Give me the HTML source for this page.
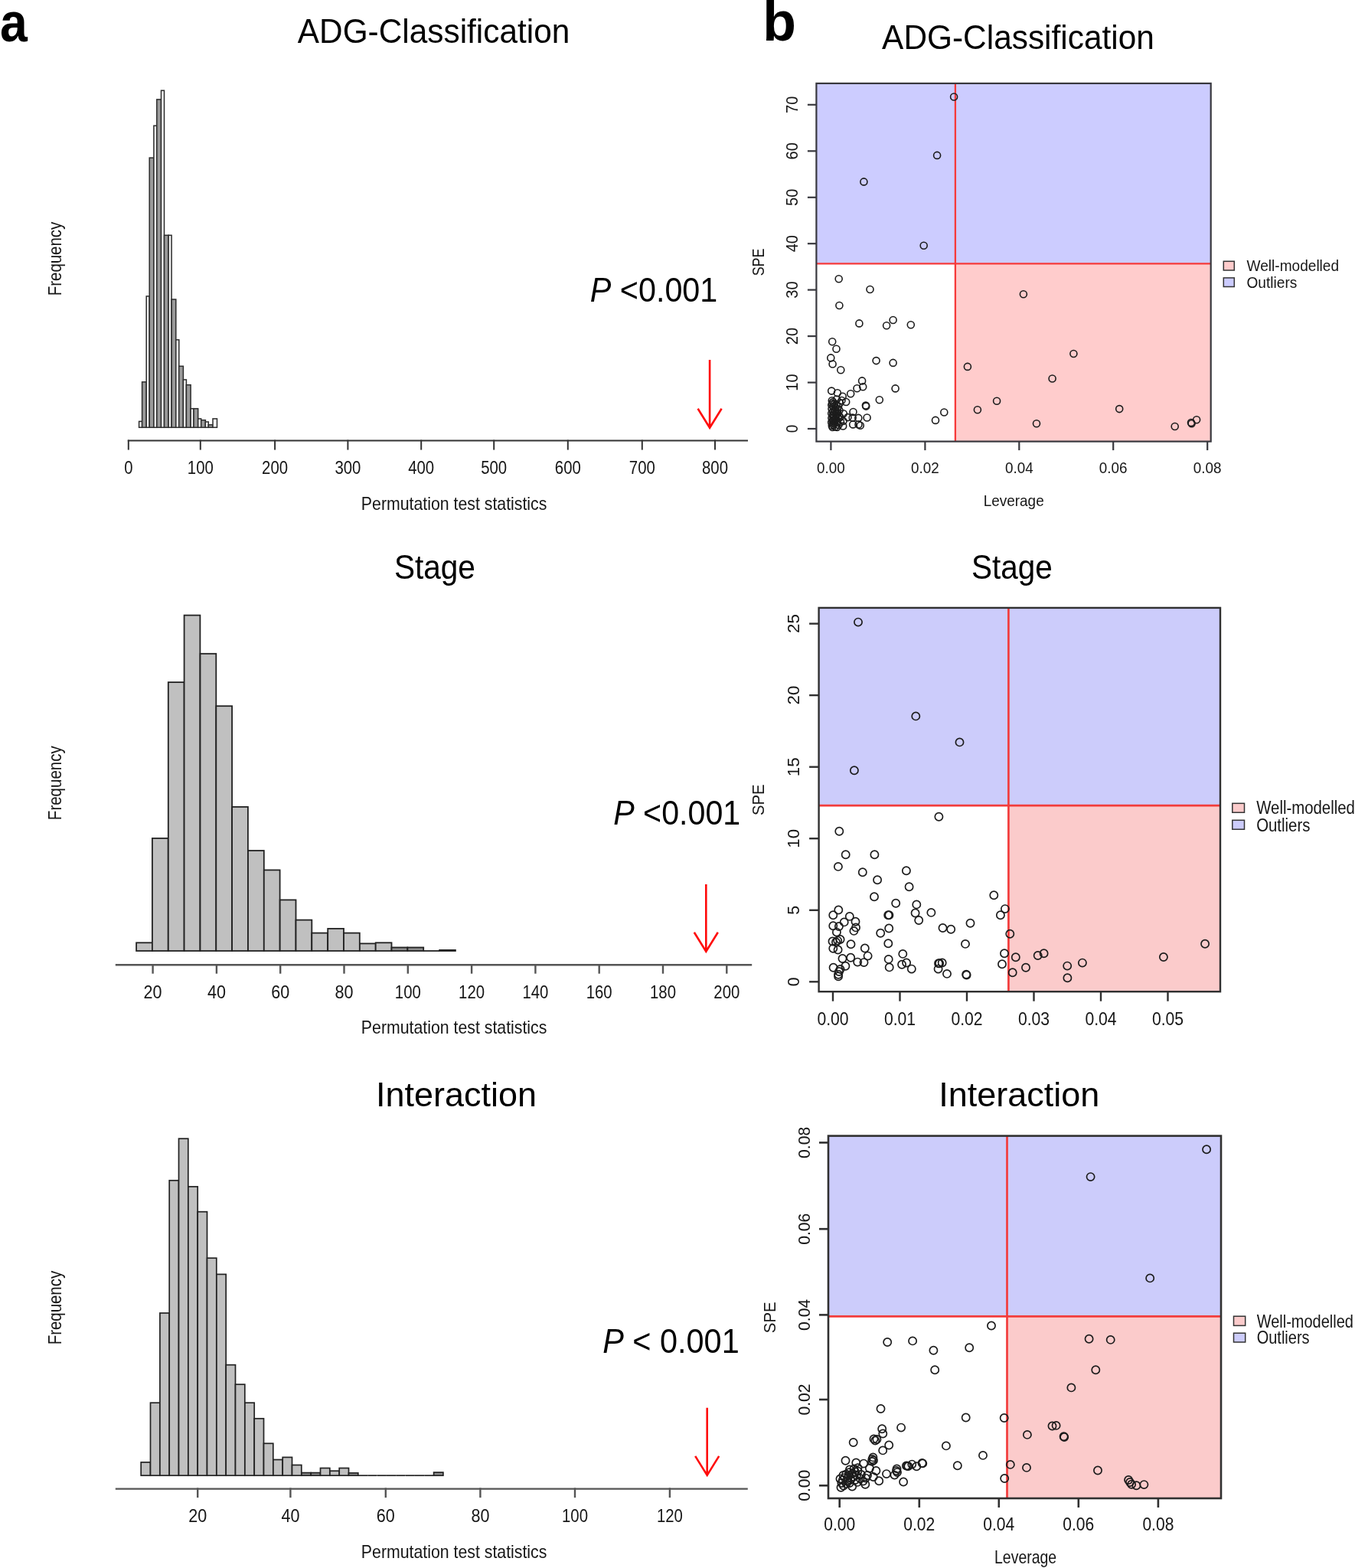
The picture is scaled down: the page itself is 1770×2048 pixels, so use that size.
<!DOCTYPE html>
<html lang="en">
<head>
<meta charset="utf-8">
<title>Permutation test statistics and SPE / Leverage outlier plots</title>
<style>
html, body { margin: 0; padding: 0; background: #ffffff; }
body { width: 1770px; height: 2048px; overflow: hidden; }
svg { display: block; font-family: "Liberation Sans", Arial, Helvetica, sans-serif; }
svg text { font-family: "Liberation Sans", Arial, Helvetica, sans-serif; }
</style>
</head>
<body>
<svg width="1770" height="2048" viewBox="0 0 1770 2048">
<rect x="0" y="0" width="1770" height="2048" fill="#ffffff"/>
<g class="hist">
<rect x="181.6" y="550.4" width="4.0" height="7.9" fill="#f4f4f4" stroke="#2c2c2c" stroke-width="1.5"/>
<rect x="185.6" y="498.9" width="5.7" height="59.4" fill="#9a9a9a" stroke="#2c2c2c" stroke-width="1.5"/>
<rect x="191.2" y="386.9" width="4.0" height="171.4" fill="#f4f4f4" stroke="#2c2c2c" stroke-width="1.5"/>
<rect x="195.2" y="206.1" width="5.7" height="352.2" fill="#9a9a9a" stroke="#2c2c2c" stroke-width="1.5"/>
<rect x="200.9" y="164.2" width="4.0" height="394.1" fill="#f4f4f4" stroke="#2c2c2c" stroke-width="1.5"/>
<rect x="204.8" y="129.9" width="5.7" height="428.4" fill="#9a9a9a" stroke="#2c2c2c" stroke-width="1.5"/>
<rect x="210.5" y="118.2" width="4.0" height="440.1" fill="#f4f4f4" stroke="#2c2c2c" stroke-width="1.5"/>
<rect x="214.5" y="307.3" width="5.7" height="251.0" fill="#9a9a9a" stroke="#2c2c2c" stroke-width="1.5"/>
<rect x="220.1" y="307.3" width="4.0" height="251.0" fill="#f4f4f4" stroke="#2c2c2c" stroke-width="1.5"/>
<rect x="224.1" y="391.0" width="5.7" height="167.3" fill="#9a9a9a" stroke="#2c2c2c" stroke-width="1.5"/>
<rect x="229.8" y="443.8" width="4.0" height="114.5" fill="#f4f4f4" stroke="#2c2c2c" stroke-width="1.5"/>
<rect x="233.7" y="478.3" width="5.7" height="80.0" fill="#9a9a9a" stroke="#2c2c2c" stroke-width="1.5"/>
<rect x="239.4" y="495.9" width="4.0" height="62.4" fill="#f4f4f4" stroke="#2c2c2c" stroke-width="1.5"/>
<rect x="243.4" y="502.7" width="5.7" height="55.6" fill="#9a9a9a" stroke="#2c2c2c" stroke-width="1.5"/>
<rect x="249.1" y="533.7" width="4.0" height="24.6" fill="#f4f4f4" stroke="#2c2c2c" stroke-width="1.5"/>
<rect x="253.0" y="533.7" width="5.7" height="24.6" fill="#9a9a9a" stroke="#2c2c2c" stroke-width="1.5"/>
<rect x="258.7" y="546.9" width="4.0" height="11.4" fill="#f4f4f4" stroke="#2c2c2c" stroke-width="1.5"/>
<rect x="262.7" y="548.7" width="5.7" height="9.6" fill="#9a9a9a" stroke="#2c2c2c" stroke-width="1.5"/>
<rect x="268.3" y="551.0" width="4.0" height="7.3" fill="#f4f4f4" stroke="#2c2c2c" stroke-width="1.5"/>
<rect x="272.3" y="554.8" width="5.7" height="3.5" fill="#9a9a9a" stroke="#2c2c2c" stroke-width="1.5"/>
<rect x="278.0" y="546.9" width="5.5" height="11.4" fill="#f4f4f4" stroke="#2c2c2c" stroke-width="1.5"/>
<line x1="166.8" y1="575.6" x2="977.0" y2="575.6" stroke="#333" stroke-width="2" stroke-linecap="butt"/>
<line x1="167.8" y1="574.6" x2="167.8" y2="587.6" stroke="#333" stroke-width="2" stroke-linecap="butt"/>
<text x="167.8" y="619.2" font-size="23.4" text-anchor="middle" fill="#161616" textLength="11.3" lengthAdjust="spacingAndGlyphs">0</text>
<line x1="261.8" y1="574.6" x2="261.8" y2="587.6" stroke="#333" stroke-width="2" stroke-linecap="butt"/>
<text x="261.8" y="619.2" font-size="23.4" text-anchor="middle" fill="#161616" textLength="34.0" lengthAdjust="spacingAndGlyphs">100</text>
<line x1="359.1" y1="574.6" x2="359.1" y2="587.6" stroke="#333" stroke-width="2" stroke-linecap="butt"/>
<text x="359.1" y="619.2" font-size="23.4" text-anchor="middle" fill="#161616" textLength="34.0" lengthAdjust="spacingAndGlyphs">200</text>
<line x1="454.4" y1="574.6" x2="454.4" y2="587.6" stroke="#333" stroke-width="2" stroke-linecap="butt"/>
<text x="454.4" y="619.2" font-size="23.4" text-anchor="middle" fill="#161616" textLength="34.0" lengthAdjust="spacingAndGlyphs">300</text>
<line x1="550.2" y1="574.6" x2="550.2" y2="587.6" stroke="#333" stroke-width="2" stroke-linecap="butt"/>
<text x="550.2" y="619.2" font-size="23.4" text-anchor="middle" fill="#161616" textLength="34.0" lengthAdjust="spacingAndGlyphs">400</text>
<line x1="645.2" y1="574.6" x2="645.2" y2="587.6" stroke="#333" stroke-width="2" stroke-linecap="butt"/>
<text x="645.2" y="619.2" font-size="23.4" text-anchor="middle" fill="#161616" textLength="34.0" lengthAdjust="spacingAndGlyphs">500</text>
<line x1="741.8" y1="574.6" x2="741.8" y2="587.6" stroke="#333" stroke-width="2" stroke-linecap="butt"/>
<text x="741.8" y="619.2" font-size="23.4" text-anchor="middle" fill="#161616" textLength="34.0" lengthAdjust="spacingAndGlyphs">600</text>
<line x1="838.8" y1="574.6" x2="838.8" y2="587.6" stroke="#333" stroke-width="2" stroke-linecap="butt"/>
<text x="838.8" y="619.2" font-size="23.4" text-anchor="middle" fill="#161616" textLength="34.0" lengthAdjust="spacingAndGlyphs">700</text>
<line x1="934.0" y1="574.6" x2="934.0" y2="587.6" stroke="#333" stroke-width="2" stroke-linecap="butt"/>
<text x="934.0" y="619.2" font-size="23.4" text-anchor="middle" fill="#161616" textLength="34.0" lengthAdjust="spacingAndGlyphs">800</text>
<text x="593.1" y="665.5" font-size="23.4" text-anchor="middle" fill="#161616" textLength="242.5" lengthAdjust="spacingAndGlyphs">Permutation test statistics</text>
<text x="80.2" y="338.0" font-size="23.4" text-anchor="middle" fill="#161616" textLength="96.4" lengthAdjust="spacingAndGlyphs" transform="rotate(-90 80.2 338.0)">Frequency</text>
<path d="M927.1 470.0 L927.1 558.2 M911.6 533.7 L927.1 558.7 L942.6 533.7" fill="none" stroke="#ff0a0a" stroke-width="2.6" stroke-linejoin="miter" stroke-linecap="butt"/>
<text x="770.8" y="393.5" font-size="43.5" fill="#000" textLength="166.5" lengthAdjust="spacingAndGlyphs" style="white-space:pre"><tspan font-style="italic">P</tspan> &lt;0.001</text>
<text x="388.8" y="56.3" font-size="43.5" text-anchor="start" fill="#000" textLength="355.5" lengthAdjust="spacingAndGlyphs">ADG-Classification</text>
</g>
<g class="hist">
<rect x="178.1" y="1231.3" width="20.8" height="10.7" fill="#c0c0c0" stroke="#222" stroke-width="1.8"/>
<rect x="198.9" y="1094.9" width="20.8" height="147.1" fill="#c0c0c0" stroke="#222" stroke-width="1.8"/>
<rect x="219.8" y="891.1" width="20.8" height="350.9" fill="#c0c0c0" stroke="#222" stroke-width="1.8"/>
<rect x="240.6" y="803.6" width="20.8" height="438.4" fill="#c0c0c0" stroke="#222" stroke-width="1.8"/>
<rect x="261.5" y="853.8" width="20.8" height="388.2" fill="#c0c0c0" stroke="#222" stroke-width="1.8"/>
<rect x="282.3" y="922.2" width="20.8" height="319.8" fill="#c0c0c0" stroke="#222" stroke-width="1.8"/>
<rect x="303.1" y="1053.9" width="20.8" height="188.1" fill="#c0c0c0" stroke="#222" stroke-width="1.8"/>
<rect x="324.0" y="1111.0" width="20.8" height="131.0" fill="#c0c0c0" stroke="#222" stroke-width="1.8"/>
<rect x="344.8" y="1136.4" width="20.8" height="105.6" fill="#c0c0c0" stroke="#222" stroke-width="1.8"/>
<rect x="365.7" y="1175.4" width="20.8" height="66.6" fill="#c0c0c0" stroke="#222" stroke-width="1.8"/>
<rect x="386.5" y="1201.6" width="20.8" height="40.4" fill="#c0c0c0" stroke="#222" stroke-width="1.8"/>
<rect x="407.3" y="1218.6" width="20.8" height="23.4" fill="#c0c0c0" stroke="#222" stroke-width="1.8"/>
<rect x="428.2" y="1212.9" width="20.8" height="29.1" fill="#c0c0c0" stroke="#222" stroke-width="1.8"/>
<rect x="449.0" y="1218.6" width="20.8" height="23.4" fill="#c0c0c0" stroke="#222" stroke-width="1.8"/>
<rect x="469.9" y="1232.4" width="20.8" height="9.6" fill="#c0c0c0" stroke="#222" stroke-width="1.8"/>
<rect x="490.7" y="1231.3" width="20.8" height="10.7" fill="#c0c0c0" stroke="#222" stroke-width="1.8"/>
<rect x="511.5" y="1237.5" width="20.8" height="4.5" fill="#8c8c8c" stroke="#222" stroke-width="1.8"/>
<rect x="532.4" y="1237.5" width="20.8" height="4.5" fill="#8c8c8c" stroke="#222" stroke-width="1.8"/>
<line x1="553.2" y1="1242.0" x2="574.1" y2="1242.0" stroke="#222" stroke-width="1.8" stroke-linecap="butt"/>
<rect x="574.1" y="1240.9" width="20.8" height="1.1" fill="#8c8c8c" stroke="#222" stroke-width="1.8"/>
<line x1="150.8" y1="1260.2" x2="982.2" y2="1260.2" stroke="#555" stroke-width="2.4" stroke-linecap="butt"/>
<line x1="199.6" y1="1259.0" x2="199.6" y2="1271.7" stroke="#555" stroke-width="2.4" stroke-linecap="butt"/>
<text x="199.6" y="1304.0" font-size="23.4" text-anchor="middle" fill="#161616" textLength="24.0" lengthAdjust="spacingAndGlyphs">20</text>
<line x1="282.9" y1="1259.0" x2="282.9" y2="1271.7" stroke="#555" stroke-width="2.4" stroke-linecap="butt"/>
<text x="282.9" y="1304.0" font-size="23.4" text-anchor="middle" fill="#161616" textLength="24.0" lengthAdjust="spacingAndGlyphs">40</text>
<line x1="366.2" y1="1259.0" x2="366.2" y2="1271.7" stroke="#555" stroke-width="2.4" stroke-linecap="butt"/>
<text x="366.2" y="1304.0" font-size="23.4" text-anchor="middle" fill="#161616" textLength="24.0" lengthAdjust="spacingAndGlyphs">60</text>
<line x1="449.5" y1="1259.0" x2="449.5" y2="1271.7" stroke="#555" stroke-width="2.4" stroke-linecap="butt"/>
<text x="449.5" y="1304.0" font-size="23.4" text-anchor="middle" fill="#161616" textLength="24.0" lengthAdjust="spacingAndGlyphs">80</text>
<line x1="532.8" y1="1259.0" x2="532.8" y2="1271.7" stroke="#555" stroke-width="2.4" stroke-linecap="butt"/>
<text x="532.8" y="1304.0" font-size="23.4" text-anchor="middle" fill="#161616" textLength="34.0" lengthAdjust="spacingAndGlyphs">100</text>
<line x1="616.1" y1="1259.0" x2="616.1" y2="1271.7" stroke="#555" stroke-width="2.4" stroke-linecap="butt"/>
<text x="616.1" y="1304.0" font-size="23.4" text-anchor="middle" fill="#161616" textLength="34.0" lengthAdjust="spacingAndGlyphs">120</text>
<line x1="699.4" y1="1259.0" x2="699.4" y2="1271.7" stroke="#555" stroke-width="2.4" stroke-linecap="butt"/>
<text x="699.4" y="1304.0" font-size="23.4" text-anchor="middle" fill="#161616" textLength="34.0" lengthAdjust="spacingAndGlyphs">140</text>
<line x1="782.7" y1="1259.0" x2="782.7" y2="1271.7" stroke="#555" stroke-width="2.4" stroke-linecap="butt"/>
<text x="782.7" y="1304.0" font-size="23.4" text-anchor="middle" fill="#161616" textLength="34.0" lengthAdjust="spacingAndGlyphs">160</text>
<line x1="866.0" y1="1259.0" x2="866.0" y2="1271.7" stroke="#555" stroke-width="2.4" stroke-linecap="butt"/>
<text x="866.0" y="1304.0" font-size="23.4" text-anchor="middle" fill="#161616" textLength="34.0" lengthAdjust="spacingAndGlyphs">180</text>
<line x1="949.3" y1="1259.0" x2="949.3" y2="1271.7" stroke="#555" stroke-width="2.4" stroke-linecap="butt"/>
<text x="949.3" y="1304.0" font-size="23.4" text-anchor="middle" fill="#161616" textLength="34.0" lengthAdjust="spacingAndGlyphs">200</text>
<text x="593.1" y="1350.2" font-size="23.4" text-anchor="middle" fill="#161616" textLength="242.5" lengthAdjust="spacingAndGlyphs">Permutation test statistics</text>
<text x="80.2" y="1022.7" font-size="23.4" text-anchor="middle" fill="#161616" textLength="96.9" lengthAdjust="spacingAndGlyphs" transform="rotate(-90 80.2 1022.7)">Frequency</text>
<path d="M922.3 1155.0 L922.3 1242.2 M906.8 1217.7 L922.3 1242.7 L937.8 1217.7" fill="none" stroke="#ff0a0a" stroke-width="2.6" stroke-linejoin="miter" stroke-linecap="butt"/>
<text x="801.2" y="1077.0" font-size="43.5" fill="#000" textLength="166.0" lengthAdjust="spacingAndGlyphs" style="white-space:pre"><tspan font-style="italic">P</tspan> &lt;0.001</text>
<text x="515.0" y="756.0" font-size="43.5" text-anchor="start" fill="#000" textLength="105.9" lengthAdjust="spacingAndGlyphs">Stage</text>
</g>
<g class="hist">
<rect x="184.2" y="1909.9" width="12.3" height="17.3" fill="#c0c0c0" stroke="#222" stroke-width="1.7"/>
<rect x="196.5" y="1832.2" width="12.3" height="95.0" fill="#c0c0c0" stroke="#222" stroke-width="1.7"/>
<rect x="208.9" y="1715.0" width="12.3" height="212.2" fill="#c0c0c0" stroke="#222" stroke-width="1.7"/>
<rect x="221.2" y="1541.8" width="12.3" height="385.4" fill="#c0c0c0" stroke="#222" stroke-width="1.7"/>
<rect x="233.5" y="1487.2" width="12.3" height="440.0" fill="#c0c0c0" stroke="#222" stroke-width="1.7"/>
<rect x="245.9" y="1549.9" width="12.3" height="377.3" fill="#c0c0c0" stroke="#222" stroke-width="1.7"/>
<rect x="258.2" y="1582.7" width="12.3" height="344.5" fill="#c0c0c0" stroke="#222" stroke-width="1.7"/>
<rect x="270.5" y="1643.2" width="12.3" height="284.0" fill="#c0c0c0" stroke="#222" stroke-width="1.7"/>
<rect x="282.9" y="1664.4" width="12.3" height="262.8" fill="#c0c0c0" stroke="#222" stroke-width="1.7"/>
<rect x="295.2" y="1782.7" width="12.3" height="144.5" fill="#c0c0c0" stroke="#222" stroke-width="1.7"/>
<rect x="307.5" y="1808.2" width="12.3" height="119.0" fill="#c0c0c0" stroke="#222" stroke-width="1.7"/>
<rect x="319.9" y="1832.2" width="12.3" height="95.0" fill="#c0c0c0" stroke="#222" stroke-width="1.7"/>
<rect x="332.2" y="1852.8" width="12.3" height="74.4" fill="#c0c0c0" stroke="#222" stroke-width="1.7"/>
<rect x="344.5" y="1885.3" width="12.3" height="41.9" fill="#c0c0c0" stroke="#222" stroke-width="1.7"/>
<rect x="356.9" y="1906.5" width="12.3" height="20.7" fill="#c0c0c0" stroke="#222" stroke-width="1.7"/>
<rect x="369.2" y="1903.4" width="12.3" height="23.8" fill="#c0c0c0" stroke="#222" stroke-width="1.7"/>
<rect x="381.5" y="1913.5" width="12.3" height="13.7" fill="#c0c0c0" stroke="#222" stroke-width="1.7"/>
<rect x="393.9" y="1923.6" width="12.3" height="3.6" fill="#8c8c8c" stroke="#222" stroke-width="1.7"/>
<rect x="406.2" y="1923.6" width="12.3" height="3.6" fill="#8c8c8c" stroke="#222" stroke-width="1.7"/>
<rect x="418.5" y="1917.5" width="12.3" height="9.7" fill="#c0c0c0" stroke="#222" stroke-width="1.7"/>
<rect x="430.9" y="1921.2" width="12.3" height="6.0" fill="#c0c0c0" stroke="#222" stroke-width="1.7"/>
<rect x="443.2" y="1917.5" width="12.3" height="9.7" fill="#c0c0c0" stroke="#222" stroke-width="1.7"/>
<rect x="455.5" y="1923.9" width="12.3" height="3.3" fill="#8c8c8c" stroke="#222" stroke-width="1.7"/>
<line x1="467.9" y1="1927.2" x2="480.2" y2="1927.2" stroke="#222" stroke-width="1.7" stroke-linecap="butt"/>
<line x1="480.2" y1="1927.2" x2="492.5" y2="1927.2" stroke="#222" stroke-width="1.7" stroke-linecap="butt"/>
<line x1="492.5" y1="1927.2" x2="504.9" y2="1927.2" stroke="#222" stroke-width="1.7" stroke-linecap="butt"/>
<line x1="504.9" y1="1927.2" x2="517.2" y2="1927.2" stroke="#222" stroke-width="1.7" stroke-linecap="butt"/>
<line x1="517.2" y1="1927.2" x2="529.6" y2="1927.2" stroke="#222" stroke-width="1.7" stroke-linecap="butt"/>
<line x1="529.6" y1="1927.2" x2="541.9" y2="1927.2" stroke="#222" stroke-width="1.7" stroke-linecap="butt"/>
<line x1="541.9" y1="1927.2" x2="554.2" y2="1927.2" stroke="#222" stroke-width="1.7" stroke-linecap="butt"/>
<line x1="554.2" y1="1927.2" x2="566.6" y2="1927.2" stroke="#222" stroke-width="1.7" stroke-linecap="butt"/>
<rect x="566.6" y="1923.1" width="12.3" height="4.1" fill="#8c8c8c" stroke="#222" stroke-width="1.7"/>
<line x1="150.8" y1="1944.6" x2="976.8" y2="1944.6" stroke="#555" stroke-width="2.4" stroke-linecap="butt"/>
<line x1="258.2" y1="1943.4" x2="258.2" y2="1956.1" stroke="#555" stroke-width="2.4" stroke-linecap="butt"/>
<text x="258.2" y="1988.4" font-size="23.4" text-anchor="middle" fill="#161616" textLength="24.0" lengthAdjust="spacingAndGlyphs">20</text>
<line x1="379.4" y1="1943.4" x2="379.4" y2="1956.1" stroke="#555" stroke-width="2.4" stroke-linecap="butt"/>
<text x="379.4" y="1988.4" font-size="23.4" text-anchor="middle" fill="#161616" textLength="24.0" lengthAdjust="spacingAndGlyphs">40</text>
<line x1="503.8" y1="1943.4" x2="503.8" y2="1956.1" stroke="#555" stroke-width="2.4" stroke-linecap="butt"/>
<text x="503.8" y="1988.4" font-size="23.4" text-anchor="middle" fill="#161616" textLength="24.0" lengthAdjust="spacingAndGlyphs">60</text>
<line x1="627.4" y1="1943.4" x2="627.4" y2="1956.1" stroke="#555" stroke-width="2.4" stroke-linecap="butt"/>
<text x="627.4" y="1988.4" font-size="23.4" text-anchor="middle" fill="#161616" textLength="24.0" lengthAdjust="spacingAndGlyphs">80</text>
<line x1="751.0" y1="1943.4" x2="751.0" y2="1956.1" stroke="#555" stroke-width="2.4" stroke-linecap="butt"/>
<text x="751.0" y="1988.4" font-size="23.4" text-anchor="middle" fill="#161616" textLength="34.0" lengthAdjust="spacingAndGlyphs">100</text>
<line x1="874.9" y1="1943.4" x2="874.9" y2="1956.1" stroke="#555" stroke-width="2.4" stroke-linecap="butt"/>
<text x="874.9" y="1988.4" font-size="23.4" text-anchor="middle" fill="#161616" textLength="34.0" lengthAdjust="spacingAndGlyphs">120</text>
<text x="593.1" y="2034.6" font-size="23.4" text-anchor="middle" fill="#161616" textLength="242.5" lengthAdjust="spacingAndGlyphs">Permutation test statistics</text>
<text x="80.2" y="1708.1" font-size="23.4" text-anchor="middle" fill="#161616" textLength="96.4" lengthAdjust="spacingAndGlyphs" transform="rotate(-90 80.2 1708.1)">Frequency</text>
<path d="M923.7 1838.7 L923.7 1926.4 M908.2 1901.9 L923.7 1926.9 L939.2 1901.9" fill="none" stroke="#ff0a0a" stroke-width="2.6" stroke-linejoin="miter" stroke-linecap="butt"/>
<text x="787.2" y="1767.4" font-size="43.5" fill="#000" textLength="178.5" lengthAdjust="spacingAndGlyphs" style="white-space:pre"><tspan font-style="italic">P</tspan> &lt; 0.001</text>
<text x="491.0" y="1444.5" font-size="43.5" text-anchor="start" fill="#000" textLength="209.9" lengthAdjust="spacingAndGlyphs">Interaction</text>
</g>
<g class="scatter">
<rect x="1066.4" y="108.9" width="515.3" height="235.5" fill="#ccccff" stroke="none" stroke-width="1"/>
<rect x="1247.9" y="344.4" width="333.8" height="232.2" fill="#ffcccc" stroke="none" stroke-width="1"/>
<line x1="1066.4" y1="344.4" x2="1581.7" y2="344.4" stroke="#f63a3a" stroke-width="2.3" stroke-linecap="butt"/>
<line x1="1247.9" y1="108.9" x2="1247.9" y2="576.6" stroke="#f63a3a" stroke-width="2.3" stroke-linecap="butt"/>
<g fill="none" stroke="#1c1c1c" stroke-width="1.6"><circle cx="1246.1" cy="126.5" r="4.5"/><circle cx="1224.1" cy="202.9" r="4.5"/><circle cx="1128.4" cy="237.4" r="4.5"/><circle cx="1206.7" cy="320.8" r="4.5"/><circle cx="1095.7" cy="364.3" r="4.5"/><circle cx="1136.5" cy="378.0" r="4.5"/><circle cx="1096.4" cy="399.0" r="4.5"/><circle cx="1122.4" cy="422.4" r="4.5"/><circle cx="1158.1" cy="425.2" r="4.5"/><circle cx="1166.6" cy="418.0" r="4.5"/><circle cx="1189.8" cy="424.3" r="4.5"/><circle cx="1087.2" cy="446.3" r="4.5"/><circle cx="1092.5" cy="455.8" r="4.5"/><circle cx="1085.3" cy="467.4" r="4.5"/><circle cx="1087.6" cy="475.5" r="4.5"/><circle cx="1098.3" cy="483.3" r="4.5"/><circle cx="1144.6" cy="471.1" r="4.5"/><circle cx="1166.6" cy="473.9" r="4.5"/><circle cx="1126.1" cy="497.4" r="4.5"/><circle cx="1127.2" cy="505.3" r="4.5"/><circle cx="1119.5" cy="507.2" r="4.5"/><circle cx="1111.2" cy="514.3" r="4.5"/><circle cx="1169.6" cy="507.4" r="4.5"/><circle cx="1148.8" cy="522.2" r="4.5"/><circle cx="1130.9" cy="529.6" r="4.5"/><circle cx="1131.3" cy="530.6" r="4.5"/><circle cx="1132.6" cy="545.5" r="4.5"/><circle cx="1222.0" cy="548.9" r="4.5"/><circle cx="1233.3" cy="538.5" r="4.5"/><circle cx="1336.9" cy="384.2" r="4.5"/><circle cx="1263.9" cy="478.9" r="4.5"/><circle cx="1276.9" cy="535.2" r="4.5"/><circle cx="1302.1" cy="523.7" r="4.5"/><circle cx="1354.0" cy="553.3" r="4.5"/><circle cx="1402.4" cy="462.0" r="4.5"/><circle cx="1374.6" cy="494.5" r="4.5"/><circle cx="1462.2" cy="534.1" r="4.5"/><circle cx="1534.7" cy="557.0" r="4.5"/><circle cx="1556.0" cy="552.0" r="4.5"/><circle cx="1556.6" cy="553.2" r="4.5"/><circle cx="1563.1" cy="548.2" r="4.5"/><circle cx="1086.2" cy="510.6" r="4.5"/><circle cx="1093.9" cy="513.2" r="4.5"/><circle cx="1100.7" cy="517.7" r="4.5"/><circle cx="1086.8" cy="523.3" r="4.5"/><circle cx="1093.0" cy="521.5" r="4.5"/><circle cx="1099.5" cy="523.0" r="4.5"/><circle cx="1105.2" cy="525.0" r="4.5"/><circle cx="1086.3" cy="529.0" r="4.5"/><circle cx="1090.0" cy="527.5" r="4.5"/><circle cx="1095.0" cy="531.0" r="4.5"/><circle cx="1086.5" cy="534.0" r="4.5"/><circle cx="1091.0" cy="536.0" r="4.5"/><circle cx="1086.2" cy="540.0" r="4.5"/><circle cx="1089.5" cy="542.0" r="4.5"/><circle cx="1094.5" cy="540.0" r="4.5"/><circle cx="1086.4" cy="546.0" r="4.5"/><circle cx="1090.5" cy="548.0" r="4.5"/><circle cx="1095.0" cy="546.5" r="4.5"/><circle cx="1086.2" cy="551.5" r="4.5"/><circle cx="1089.0" cy="553.0" r="4.5"/><circle cx="1093.5" cy="552.0" r="4.5"/><circle cx="1086.8" cy="556.0" r="4.5"/><circle cx="1091.0" cy="557.5" r="4.5"/><circle cx="1093.3" cy="558.0" r="4.5"/><circle cx="1087.5" cy="558.0" r="4.5"/><circle cx="1088.0" cy="537.5" r="4.5"/><circle cx="1092.0" cy="544.5" r="4.5"/><circle cx="1087.5" cy="549.5" r="4.5"/><circle cx="1088.5" cy="555.0" r="4.5"/><circle cx="1091.5" cy="532.5" r="4.5"/><circle cx="1087.2" cy="527.0" r="4.5"/><circle cx="1096.5" cy="536.0" r="4.5"/><circle cx="1097.0" cy="526.5" r="4.5"/><circle cx="1088.8" cy="531.0" r="4.5"/><circle cx="1092.8" cy="538.5" r="4.5"/><circle cx="1089.2" cy="545.0" r="4.5"/><circle cx="1093.2" cy="549.5" r="4.5"/><circle cx="1090.2" cy="551.5" r="4.5"/><circle cx="1087.8" cy="543.0" r="4.5"/><circle cx="1094.0" cy="534.5" r="4.5"/><circle cx="1091.8" cy="541.0" r="4.5"/><circle cx="1088.2" cy="525.0" r="4.5"/><circle cx="1092.5" cy="528.5" r="4.5"/><circle cx="1096.0" cy="543.0" r="4.5"/><circle cx="1095.5" cy="555.0" r="4.5"/><circle cx="1090.0" cy="539.0" r="4.5"/><circle cx="1089.0" cy="548.5" r="4.5"/><circle cx="1101.8" cy="540.3" r="4.5"/><circle cx="1101.5" cy="549.9" r="4.5"/><circle cx="1101.2" cy="556.5" r="4.5"/><circle cx="1107.5" cy="545.1" r="4.5"/><circle cx="1113.7" cy="545.6" r="4.5"/><circle cx="1121.3" cy="545.9" r="4.5"/><circle cx="1114.5" cy="538.0" r="4.5"/><circle cx="1114.2" cy="554.4" r="4.5"/><circle cx="1123.8" cy="555.8" r="4.5"/><circle cx="1121.5" cy="554.5" r="4.5"/><circle cx="1098.0" cy="551.0" r="4.5"/><circle cx="1097.5" cy="545.0" r="4.5"/></g>
<rect x="1066.4" y="108.9" width="515.3" height="467.7" fill="none" stroke="#38383e" stroke-width="2.2"/>
<line x1="1085.4" y1="576.6" x2="1085.4" y2="588.1" stroke="#38383e" stroke-width="2.2" stroke-linecap="butt"/>
<text x="1085.4" y="617.5" font-size="20.3" text-anchor="middle" fill="#161616" textLength="36.7" lengthAdjust="spacingAndGlyphs">0.00</text>
<line x1="1208.4" y1="576.6" x2="1208.4" y2="588.1" stroke="#38383e" stroke-width="2.2" stroke-linecap="butt"/>
<text x="1208.4" y="617.5" font-size="20.3" text-anchor="middle" fill="#161616" textLength="36.7" lengthAdjust="spacingAndGlyphs">0.02</text>
<line x1="1331.3" y1="576.6" x2="1331.3" y2="588.1" stroke="#38383e" stroke-width="2.2" stroke-linecap="butt"/>
<text x="1331.3" y="617.5" font-size="20.3" text-anchor="middle" fill="#161616" textLength="36.7" lengthAdjust="spacingAndGlyphs">0.04</text>
<line x1="1454.2" y1="576.6" x2="1454.2" y2="588.1" stroke="#38383e" stroke-width="2.2" stroke-linecap="butt"/>
<text x="1454.2" y="617.5" font-size="20.3" text-anchor="middle" fill="#161616" textLength="36.7" lengthAdjust="spacingAndGlyphs">0.06</text>
<line x1="1577.2" y1="576.6" x2="1577.2" y2="588.1" stroke="#38383e" stroke-width="2.2" stroke-linecap="butt"/>
<text x="1577.2" y="617.5" font-size="20.3" text-anchor="middle" fill="#161616" textLength="36.7" lengthAdjust="spacingAndGlyphs">0.08</text>
<line x1="1054.9" y1="560.0" x2="1066.4" y2="560.0" stroke="#38383e" stroke-width="2.2" stroke-linecap="butt"/>
<text x="1042.4" y="560.0" font-size="21.4" text-anchor="middle" fill="#161616" textLength="10.5" lengthAdjust="spacingAndGlyphs" transform="rotate(-90 1042.4 560.0)">0</text>
<line x1="1054.9" y1="499.6" x2="1066.4" y2="499.6" stroke="#38383e" stroke-width="2.2" stroke-linecap="butt"/>
<text x="1042.4" y="499.6" font-size="21.4" text-anchor="middle" fill="#161616" textLength="22.3" lengthAdjust="spacingAndGlyphs" transform="rotate(-90 1042.4 499.6)">10</text>
<line x1="1054.9" y1="439.1" x2="1066.4" y2="439.1" stroke="#38383e" stroke-width="2.2" stroke-linecap="butt"/>
<text x="1042.4" y="439.1" font-size="21.4" text-anchor="middle" fill="#161616" textLength="22.3" lengthAdjust="spacingAndGlyphs" transform="rotate(-90 1042.4 439.1)">20</text>
<line x1="1054.9" y1="378.6" x2="1066.4" y2="378.6" stroke="#38383e" stroke-width="2.2" stroke-linecap="butt"/>
<text x="1042.4" y="378.6" font-size="21.4" text-anchor="middle" fill="#161616" textLength="22.3" lengthAdjust="spacingAndGlyphs" transform="rotate(-90 1042.4 378.6)">30</text>
<line x1="1054.9" y1="318.2" x2="1066.4" y2="318.2" stroke="#38383e" stroke-width="2.2" stroke-linecap="butt"/>
<text x="1042.4" y="318.2" font-size="21.4" text-anchor="middle" fill="#161616" textLength="22.3" lengthAdjust="spacingAndGlyphs" transform="rotate(-90 1042.4 318.2)">40</text>
<line x1="1054.9" y1="257.8" x2="1066.4" y2="257.8" stroke="#38383e" stroke-width="2.2" stroke-linecap="butt"/>
<text x="1042.4" y="257.8" font-size="21.4" text-anchor="middle" fill="#161616" textLength="22.3" lengthAdjust="spacingAndGlyphs" transform="rotate(-90 1042.4 257.8)">50</text>
<line x1="1054.9" y1="197.3" x2="1066.4" y2="197.3" stroke="#38383e" stroke-width="2.2" stroke-linecap="butt"/>
<text x="1042.4" y="197.3" font-size="21.4" text-anchor="middle" fill="#161616" textLength="22.3" lengthAdjust="spacingAndGlyphs" transform="rotate(-90 1042.4 197.3)">60</text>
<line x1="1054.9" y1="136.8" x2="1066.4" y2="136.8" stroke="#38383e" stroke-width="2.2" stroke-linecap="butt"/>
<text x="1042.4" y="136.8" font-size="21.4" text-anchor="middle" fill="#161616" textLength="22.3" lengthAdjust="spacingAndGlyphs" transform="rotate(-90 1042.4 136.8)">70</text>
<text x="1324.2" y="661.0" font-size="20.3" text-anchor="middle" fill="#161616" textLength="79.0" lengthAdjust="spacingAndGlyphs">Leverage</text>
<text x="997.6" y="342.4" font-size="21.4" text-anchor="middle" fill="#161616" textLength="35.8" lengthAdjust="spacingAndGlyphs" transform="rotate(-90 997.6 342.4)">SPE</text>
<rect x="1598.3" y="341.3" width="14.0" height="11.7" fill="#ffcccc" stroke="#333" stroke-width="1.5"/>
<rect x="1598.3" y="362.9" width="14.0" height="11.6" fill="#ccccff" stroke="#333" stroke-width="1.5"/>
<text x="1628.5" y="354.1" font-size="20.3" text-anchor="start" fill="#161616" textLength="120.6" lengthAdjust="spacingAndGlyphs">Well-modelled</text>
<text x="1628.5" y="375.6" font-size="20.3" text-anchor="start" fill="#161616" textLength="65.8" lengthAdjust="spacingAndGlyphs">Outliers</text>
<text x="1152.1" y="64.2" font-size="43.5" text-anchor="start" fill="#000" textLength="355.8" lengthAdjust="spacingAndGlyphs">ADG-Classification</text>
</g>
<g class="scatter">
<rect x="1069.6" y="793.9" width="524.4" height="258.2" fill="#ccccfb" stroke="none" stroke-width="1"/>
<rect x="1317.4" y="1052.1" width="276.6" height="243.1" fill="#fbcbcb" stroke="none" stroke-width="1"/>
<line x1="1069.6" y1="1052.1" x2="1594.0" y2="1052.1" stroke="#f23c3c" stroke-width="2.7" stroke-linecap="butt"/>
<line x1="1317.4" y1="793.9" x2="1317.4" y2="1295.2" stroke="#f23c3c" stroke-width="2.7" stroke-linecap="butt"/>
<g fill="none" stroke="#1c1c1c" stroke-width="1.7"><circle cx="1121.0" cy="812.6" r="5.1"/><circle cx="1196.3" cy="935.4" r="5.1"/><circle cx="1253.5" cy="969.4" r="5.1"/><circle cx="1115.9" cy="1006.3" r="5.1"/><circle cx="1226.4" cy="1066.8" r="5.1"/><circle cx="1096.3" cy="1085.8" r="5.1"/><circle cx="1104.7" cy="1116.3" r="5.1"/><circle cx="1142.4" cy="1116.3" r="5.1"/><circle cx="1094.9" cy="1131.9" r="5.1"/><circle cx="1126.8" cy="1139.3" r="5.1"/><circle cx="1183.9" cy="1137.3" r="5.1"/><circle cx="1146.1" cy="1149.3" r="5.1"/><circle cx="1187.6" cy="1158.3" r="5.1"/><circle cx="1142.0" cy="1171.2" r="5.1"/><circle cx="1170.2" cy="1179.8" r="5.1"/><circle cx="1197.3" cy="1181.4" r="5.1"/><circle cx="1298.3" cy="1169.2" r="5.1"/><circle cx="1312.9" cy="1187.1" r="5.1"/><circle cx="1306.9" cy="1195.3" r="5.1"/><circle cx="1095.3" cy="1188.5" r="5.1"/><circle cx="1088.3" cy="1195.3" r="5.1"/><circle cx="1109.8" cy="1196.9" r="5.1"/><circle cx="1160.2" cy="1195.3" r="5.1"/><circle cx="1161.4" cy="1195.3" r="5.1"/><circle cx="1195.6" cy="1192.5" r="5.1"/><circle cx="1216.4" cy="1191.9" r="5.1"/><circle cx="1200.2" cy="1202.0" r="5.1"/><circle cx="1102.7" cy="1204.4" r="5.1"/><circle cx="1117.5" cy="1203.7" r="5.1"/><circle cx="1267.5" cy="1205.8" r="5.1"/><circle cx="1088.3" cy="1209.2" r="5.1"/><circle cx="1095.9" cy="1210.0" r="5.1"/><circle cx="1118.0" cy="1211.4" r="5.1"/><circle cx="1161.2" cy="1212.5" r="5.1"/><circle cx="1231.5" cy="1212.0" r="5.1"/><circle cx="1242.2" cy="1213.7" r="5.1"/><circle cx="1115.4" cy="1215.9" r="5.1"/><circle cx="1092.9" cy="1217.6" r="5.1"/><circle cx="1150.2" cy="1218.8" r="5.1"/><circle cx="1319.3" cy="1219.8" r="5.1"/><circle cx="1097.6" cy="1227.0" r="5.1"/><circle cx="1087.5" cy="1229.5" r="5.1"/><circle cx="1094.2" cy="1228.6" r="5.1"/><circle cx="1111.5" cy="1233.2" r="5.1"/><circle cx="1160.3" cy="1232.2" r="5.1"/><circle cx="1261.0" cy="1232.9" r="5.1"/><circle cx="1129.8" cy="1238.5" r="5.1"/><circle cx="1088.3" cy="1238.8" r="5.1"/><circle cx="1094.6" cy="1240.5" r="5.1"/><circle cx="1179.3" cy="1245.9" r="5.1"/><circle cx="1312.0" cy="1245.3" r="5.1"/><circle cx="1133.6" cy="1248.6" r="5.1"/><circle cx="1111.2" cy="1250.7" r="5.1"/><circle cx="1100.5" cy="1252.0" r="5.1"/><circle cx="1160.7" cy="1252.9" r="5.1"/><circle cx="1326.8" cy="1250.3" r="5.1"/><circle cx="1120.2" cy="1256.6" r="5.1"/><circle cx="1128.5" cy="1257.1" r="5.1"/><circle cx="1184.1" cy="1257.5" r="5.1"/><circle cx="1178.1" cy="1259.7" r="5.1"/><circle cx="1226.0" cy="1258.3" r="5.1"/><circle cx="1227.2" cy="1258.3" r="5.1"/><circle cx="1230.7" cy="1257.5" r="5.1"/><circle cx="1309.0" cy="1259.2" r="5.1"/><circle cx="1104.4" cy="1261.7" r="5.1"/><circle cx="1088.6" cy="1263.7" r="5.1"/><circle cx="1161.7" cy="1263.4" r="5.1"/><circle cx="1190.8" cy="1265.6" r="5.1"/><circle cx="1225.6" cy="1265.6" r="5.1"/><circle cx="1097.6" cy="1265.9" r="5.1"/><circle cx="1237.0" cy="1271.9" r="5.1"/><circle cx="1322.7" cy="1270.2" r="5.1"/><circle cx="1262.2" cy="1272.8" r="5.1"/><circle cx="1262.6" cy="1273.6" r="5.1"/><circle cx="1095.1" cy="1272.7" r="5.1"/><circle cx="1095.1" cy="1275.3" r="5.1"/><circle cx="1092.0" cy="1230.5" r="5.1"/><circle cx="1096.0" cy="1269.0" r="5.1"/><circle cx="1340.0" cy="1263.8" r="5.1"/><circle cx="1355.7" cy="1248.0" r="5.1"/><circle cx="1363.6" cy="1245.2" r="5.1"/><circle cx="1394.2" cy="1261.6" r="5.1"/><circle cx="1394.4" cy="1277.2" r="5.1"/><circle cx="1413.9" cy="1257.6" r="5.1"/><circle cx="1519.9" cy="1250.0" r="5.1"/><circle cx="1574.1" cy="1232.7" r="5.1"/></g>
<rect x="1069.6" y="793.9" width="524.4" height="501.3" fill="none" stroke="#303030" stroke-width="2.4"/>
<line x1="1088.0" y1="1295.2" x2="1088.0" y2="1307.7" stroke="#303030" stroke-width="2.4" stroke-linecap="butt"/>
<text x="1088.0" y="1339.3" font-size="23.5" text-anchor="middle" fill="#161616" textLength="41.2" lengthAdjust="spacingAndGlyphs">0.00</text>
<line x1="1175.5" y1="1295.2" x2="1175.5" y2="1307.7" stroke="#303030" stroke-width="2.4" stroke-linecap="butt"/>
<text x="1175.5" y="1339.3" font-size="23.5" text-anchor="middle" fill="#161616" textLength="41.2" lengthAdjust="spacingAndGlyphs">0.01</text>
<line x1="1263.0" y1="1295.2" x2="1263.0" y2="1307.7" stroke="#303030" stroke-width="2.4" stroke-linecap="butt"/>
<text x="1263.0" y="1339.3" font-size="23.5" text-anchor="middle" fill="#161616" textLength="41.2" lengthAdjust="spacingAndGlyphs">0.02</text>
<line x1="1350.5" y1="1295.2" x2="1350.5" y2="1307.7" stroke="#303030" stroke-width="2.4" stroke-linecap="butt"/>
<text x="1350.5" y="1339.3" font-size="23.5" text-anchor="middle" fill="#161616" textLength="41.2" lengthAdjust="spacingAndGlyphs">0.03</text>
<line x1="1438.0" y1="1295.2" x2="1438.0" y2="1307.7" stroke="#303030" stroke-width="2.4" stroke-linecap="butt"/>
<text x="1438.0" y="1339.3" font-size="23.5" text-anchor="middle" fill="#161616" textLength="41.2" lengthAdjust="spacingAndGlyphs">0.04</text>
<line x1="1525.5" y1="1295.2" x2="1525.5" y2="1307.7" stroke="#303030" stroke-width="2.4" stroke-linecap="butt"/>
<text x="1525.5" y="1339.3" font-size="23.5" text-anchor="middle" fill="#161616" textLength="41.2" lengthAdjust="spacingAndGlyphs">0.05</text>
<line x1="1057.1" y1="1282.3" x2="1069.6" y2="1282.3" stroke="#303030" stroke-width="2.4" stroke-linecap="butt"/>
<text x="1044.2" y="1282.3" font-size="21.6" text-anchor="middle" fill="#161616" textLength="11.8" lengthAdjust="spacingAndGlyphs" transform="rotate(-90 1044.2 1282.3)">0</text>
<line x1="1057.1" y1="1188.8" x2="1069.6" y2="1188.8" stroke="#303030" stroke-width="2.4" stroke-linecap="butt"/>
<text x="1044.2" y="1188.8" font-size="21.6" text-anchor="middle" fill="#161616" textLength="11.8" lengthAdjust="spacingAndGlyphs" transform="rotate(-90 1044.2 1188.8)">5</text>
<line x1="1057.1" y1="1095.2" x2="1069.6" y2="1095.2" stroke="#303030" stroke-width="2.4" stroke-linecap="butt"/>
<text x="1044.2" y="1095.2" font-size="21.6" text-anchor="middle" fill="#161616" textLength="24.9" lengthAdjust="spacingAndGlyphs" transform="rotate(-90 1044.2 1095.2)">10</text>
<line x1="1057.1" y1="1001.7" x2="1069.6" y2="1001.7" stroke="#303030" stroke-width="2.4" stroke-linecap="butt"/>
<text x="1044.2" y="1001.7" font-size="21.6" text-anchor="middle" fill="#161616" textLength="24.9" lengthAdjust="spacingAndGlyphs" transform="rotate(-90 1044.2 1001.7)">15</text>
<line x1="1057.1" y1="908.1" x2="1069.6" y2="908.1" stroke="#303030" stroke-width="2.4" stroke-linecap="butt"/>
<text x="1044.2" y="908.1" font-size="21.6" text-anchor="middle" fill="#161616" textLength="24.9" lengthAdjust="spacingAndGlyphs" transform="rotate(-90 1044.2 908.1)">20</text>
<line x1="1057.1" y1="814.6" x2="1069.6" y2="814.6" stroke="#303030" stroke-width="2.4" stroke-linecap="butt"/>
<text x="1044.2" y="814.6" font-size="21.6" text-anchor="middle" fill="#161616" textLength="24.9" lengthAdjust="spacingAndGlyphs" transform="rotate(-90 1044.2 814.6)">25</text>
<text x="998.3" y="1044.8" font-size="21.6" text-anchor="middle" fill="#161616" textLength="40.6" lengthAdjust="spacingAndGlyphs" transform="rotate(-90 998.3 1044.8)">SPE</text>
<rect x="1609.8" y="1049.3" width="15.7" height="11.9" fill="#fbcbcb" stroke="#333" stroke-width="1.5"/>
<rect x="1609.8" y="1071.3" width="15.7" height="11.9" fill="#ccccfb" stroke="#333" stroke-width="1.5"/>
<text x="1641.2" y="1063.3" font-size="23.5" text-anchor="start" fill="#161616" textLength="128.7" lengthAdjust="spacingAndGlyphs">Well-modelled</text>
<text x="1641.2" y="1086.0" font-size="23.5" text-anchor="start" fill="#161616" textLength="70.2" lengthAdjust="spacingAndGlyphs">Outliers</text>
<text x="1269.1" y="756.0" font-size="43.5" text-anchor="start" fill="#000" textLength="105.7" lengthAdjust="spacingAndGlyphs">Stage</text>
</g>
<g class="scatter">
<rect x="1082.0" y="1483.6" width="513.0" height="235.7" fill="#ccccfb" stroke="none" stroke-width="1"/>
<rect x="1315.5" y="1719.3" width="279.5" height="237.7" fill="#fbcbcb" stroke="none" stroke-width="1"/>
<line x1="1082.0" y1="1719.3" x2="1595.0" y2="1719.3" stroke="#f23c3c" stroke-width="2.7" stroke-linecap="butt"/>
<line x1="1315.5" y1="1483.6" x2="1315.5" y2="1957.0" stroke="#f23c3c" stroke-width="2.7" stroke-linecap="butt"/>
<g fill="none" stroke="#1c1c1c" stroke-width="1.7"><circle cx="1576.1" cy="1501.2" r="5.1"/><circle cx="1424.6" cy="1537.1" r="5.1"/><circle cx="1502.2" cy="1669.4" r="5.1"/><circle cx="1295.0" cy="1731.5" r="5.1"/><circle cx="1159.2" cy="1753.0" r="5.1"/><circle cx="1192.1" cy="1751.4" r="5.1"/><circle cx="1219.4" cy="1763.7" r="5.1"/><circle cx="1266.2" cy="1760.2" r="5.1"/><circle cx="1221.2" cy="1789.3" r="5.1"/><circle cx="1422.6" cy="1748.7" r="5.1"/><circle cx="1450.7" cy="1749.9" r="5.1"/><circle cx="1431.3" cy="1789.3" r="5.1"/><circle cx="1399.4" cy="1812.4" r="5.1"/><circle cx="1150.5" cy="1840.0" r="5.1"/><circle cx="1261.7" cy="1851.5" r="5.1"/><circle cx="1311.7" cy="1852.0" r="5.1"/><circle cx="1177.1" cy="1864.6" r="5.1"/><circle cx="1152.2" cy="1866.2" r="5.1"/><circle cx="1153.3" cy="1872.5" r="5.1"/><circle cx="1141.5" cy="1879.4" r="5.1"/><circle cx="1145.4" cy="1880.0" r="5.1"/><circle cx="1143.3" cy="1881.5" r="5.1"/><circle cx="1114.7" cy="1884.0" r="5.1"/><circle cx="1161.2" cy="1887.5" r="5.1"/><circle cx="1153.2" cy="1894.4" r="5.1"/><circle cx="1235.9" cy="1888.4" r="5.1"/><circle cx="1284.0" cy="1900.9" r="5.1"/><circle cx="1140.4" cy="1903.4" r="5.1"/><circle cx="1139.4" cy="1906.0" r="5.1"/><circle cx="1141.0" cy="1907.5" r="5.1"/><circle cx="1139.1" cy="1908.9" r="5.1"/><circle cx="1104.5" cy="1907.8" r="5.1"/><circle cx="1118.3" cy="1910.5" r="5.1"/><circle cx="1128.2" cy="1911.6" r="5.1"/><circle cx="1204.5" cy="1911.0" r="5.1"/><circle cx="1205.3" cy="1911.4" r="5.1"/><circle cx="1191.3" cy="1912.6" r="5.1"/><circle cx="1185.5" cy="1914.8" r="5.1"/><circle cx="1186.4" cy="1915.0" r="5.1"/><circle cx="1183.9" cy="1914.5" r="5.1"/><circle cx="1197.3" cy="1915.3" r="5.1"/><circle cx="1250.8" cy="1914.3" r="5.1"/><circle cx="1319.8" cy="1912.9" r="5.1"/><circle cx="1171.5" cy="1918.4" r="5.1"/><circle cx="1171.0" cy="1921.0" r="5.1"/><circle cx="1172.0" cy="1923.0" r="5.1"/><circle cx="1135.9" cy="1917.8" r="5.1"/><circle cx="1144.4" cy="1921.0" r="5.1"/><circle cx="1158.0" cy="1925.1" r="5.1"/><circle cx="1168.5" cy="1926.6" r="5.1"/><circle cx="1312.2" cy="1931.0" r="5.1"/><circle cx="1148.2" cy="1934.2" r="5.1"/><circle cx="1180.1" cy="1935.5" r="5.1"/><circle cx="1130.3" cy="1938.8" r="5.1"/><circle cx="1130.8" cy="1930.6" r="5.1"/><circle cx="1140.8" cy="1929.0" r="5.1"/><circle cx="1109.9" cy="1919.5" r="5.1"/><circle cx="1118.9" cy="1926.9" r="5.1"/><circle cx="1101.4" cy="1926.9" r="5.1"/><circle cx="1108.7" cy="1926.9" r="5.1"/><circle cx="1100.8" cy="1933.1" r="5.1"/><circle cx="1111.0" cy="1933.1" r="5.1"/><circle cx="1120.0" cy="1935.9" r="5.1"/><circle cx="1101.9" cy="1940.5" r="5.1"/><circle cx="1113.2" cy="1941.6" r="5.1"/><circle cx="1123.5" cy="1931.0" r="5.1"/><circle cx="1125.0" cy="1926.0" r="5.1"/><circle cx="1115.5" cy="1918.5" r="5.1"/><circle cx="1120.5" cy="1921.5" r="5.1"/><circle cx="1127.5" cy="1934.5" r="5.1"/><circle cx="1133.0" cy="1927.0" r="5.1"/><circle cx="1114.8" cy="1929.1" r="5.1"/><circle cx="1105.2" cy="1925.5" r="5.1"/><circle cx="1097.5" cy="1931.5" r="5.1"/><circle cx="1099.4" cy="1937.0" r="5.1"/><circle cx="1105.6" cy="1937.9" r="5.1"/><circle cx="1107.4" cy="1930.3" r="5.1"/><circle cx="1117.1" cy="1933.0" r="5.1"/><circle cx="1098.5" cy="1942.7" r="5.1"/><circle cx="1113.3" cy="1924.9" r="5.1"/><circle cx="1109.3" cy="1923.3" r="5.1"/><circle cx="1106.8" cy="1934.2" r="5.1"/><circle cx="1120.6" cy="1917.3" r="5.1"/><circle cx="1117.0" cy="1922.2" r="5.1"/><circle cx="1109.7" cy="1937.1" r="5.1"/><circle cx="1103.4" cy="1930.1" r="5.1"/><circle cx="1341.9" cy="1873.9" r="5.1"/><circle cx="1374.5" cy="1862.5" r="5.1"/><circle cx="1379.6" cy="1861.9" r="5.1"/><circle cx="1389.6" cy="1876.3" r="5.1"/><circle cx="1390.2" cy="1877.0" r="5.1"/><circle cx="1341.0" cy="1916.9" r="5.1"/><circle cx="1434.0" cy="1920.5" r="5.1"/><circle cx="1474.1" cy="1933.0" r="5.1"/><circle cx="1478.1" cy="1938.8" r="5.1"/><circle cx="1484.4" cy="1940.2" r="5.1"/><circle cx="1494.4" cy="1939.1" r="5.1"/><circle cx="1476.0" cy="1936.0" r="5.1"/></g>
<rect x="1082.0" y="1483.6" width="513.0" height="473.4" fill="none" stroke="#303030" stroke-width="2.6"/>
<line x1="1096.7" y1="1957.0" x2="1096.7" y2="1969.0" stroke="#303030" stroke-width="2.6" stroke-linecap="butt"/>
<text x="1096.7" y="1999.3" font-size="23.4" text-anchor="middle" fill="#161616" textLength="41.0" lengthAdjust="spacingAndGlyphs">0.00</text>
<line x1="1200.8" y1="1957.0" x2="1200.8" y2="1969.0" stroke="#303030" stroke-width="2.6" stroke-linecap="butt"/>
<text x="1200.8" y="1999.3" font-size="23.4" text-anchor="middle" fill="#161616" textLength="41.0" lengthAdjust="spacingAndGlyphs">0.02</text>
<line x1="1304.8" y1="1957.0" x2="1304.8" y2="1969.0" stroke="#303030" stroke-width="2.6" stroke-linecap="butt"/>
<text x="1304.8" y="1999.3" font-size="23.4" text-anchor="middle" fill="#161616" textLength="41.0" lengthAdjust="spacingAndGlyphs">0.04</text>
<line x1="1408.8" y1="1957.0" x2="1408.8" y2="1969.0" stroke="#303030" stroke-width="2.6" stroke-linecap="butt"/>
<text x="1408.8" y="1999.3" font-size="23.4" text-anchor="middle" fill="#161616" textLength="41.0" lengthAdjust="spacingAndGlyphs">0.06</text>
<line x1="1512.9" y1="1957.0" x2="1512.9" y2="1969.0" stroke="#303030" stroke-width="2.6" stroke-linecap="butt"/>
<text x="1512.9" y="1999.3" font-size="23.4" text-anchor="middle" fill="#161616" textLength="41.0" lengthAdjust="spacingAndGlyphs">0.08</text>
<line x1="1070.0" y1="1940.3" x2="1082.0" y2="1940.3" stroke="#303030" stroke-width="2.6" stroke-linecap="butt"/>
<text x="1057.6" y="1940.3" font-size="21.6" text-anchor="middle" fill="#161616" textLength="41.0" lengthAdjust="spacingAndGlyphs" transform="rotate(-90 1057.6 1940.3)">0.00</text>
<line x1="1070.0" y1="1828.0" x2="1082.0" y2="1828.0" stroke="#303030" stroke-width="2.6" stroke-linecap="butt"/>
<text x="1057.6" y="1828.0" font-size="21.6" text-anchor="middle" fill="#161616" textLength="41.0" lengthAdjust="spacingAndGlyphs" transform="rotate(-90 1057.6 1828.0)">0.02</text>
<line x1="1070.0" y1="1717.4" x2="1082.0" y2="1717.4" stroke="#303030" stroke-width="2.6" stroke-linecap="butt"/>
<text x="1057.6" y="1717.4" font-size="21.6" text-anchor="middle" fill="#161616" textLength="41.0" lengthAdjust="spacingAndGlyphs" transform="rotate(-90 1057.6 1717.4)">0.04</text>
<line x1="1070.0" y1="1605.2" x2="1082.0" y2="1605.2" stroke="#303030" stroke-width="2.6" stroke-linecap="butt"/>
<text x="1057.6" y="1605.2" font-size="21.6" text-anchor="middle" fill="#161616" textLength="41.0" lengthAdjust="spacingAndGlyphs" transform="rotate(-90 1057.6 1605.2)">0.06</text>
<line x1="1070.0" y1="1492.4" x2="1082.0" y2="1492.4" stroke="#303030" stroke-width="2.6" stroke-linecap="butt"/>
<text x="1057.6" y="1492.4" font-size="21.6" text-anchor="middle" fill="#161616" textLength="41.0" lengthAdjust="spacingAndGlyphs" transform="rotate(-90 1057.6 1492.4)">0.08</text>
<text x="1339.6" y="2042.3" font-size="23.4" text-anchor="middle" fill="#161616" textLength="81.2" lengthAdjust="spacingAndGlyphs">Leverage</text>
<text x="1013.1" y="1720.8" font-size="21.6" text-anchor="middle" fill="#161616" textLength="40.8" lengthAdjust="spacingAndGlyphs" transform="rotate(-90 1013.1 1720.8)">SPE</text>
<rect x="1611.5" y="1719.2" width="15.2" height="12.2" fill="#fbcbcb" stroke="#333" stroke-width="1.5"/>
<rect x="1611.5" y="1741.2" width="15.2" height="11.8" fill="#ccccfb" stroke="#333" stroke-width="1.5"/>
<text x="1641.7" y="1734.0" font-size="23.4" text-anchor="start" fill="#161616" textLength="126.3" lengthAdjust="spacingAndGlyphs">Well-modelled</text>
<text x="1641.7" y="1755.4" font-size="23.4" text-anchor="start" fill="#161616" textLength="68.9" lengthAdjust="spacingAndGlyphs">Outliers</text>
<text x="1226.2" y="1444.5" font-size="43.5" text-anchor="start" fill="#000" textLength="210.0" lengthAdjust="spacingAndGlyphs">Interaction</text>
</g>
<text x="0.1" y="54.4" font-size="71.5" font-weight="bold" fill="#000" textLength="35.8" lengthAdjust="spacingAndGlyphs">a</text>
<text x="996.3" y="52.8" font-size="71.5" font-weight="bold" fill="#000">b</text>
</svg>
</body>
</html>
